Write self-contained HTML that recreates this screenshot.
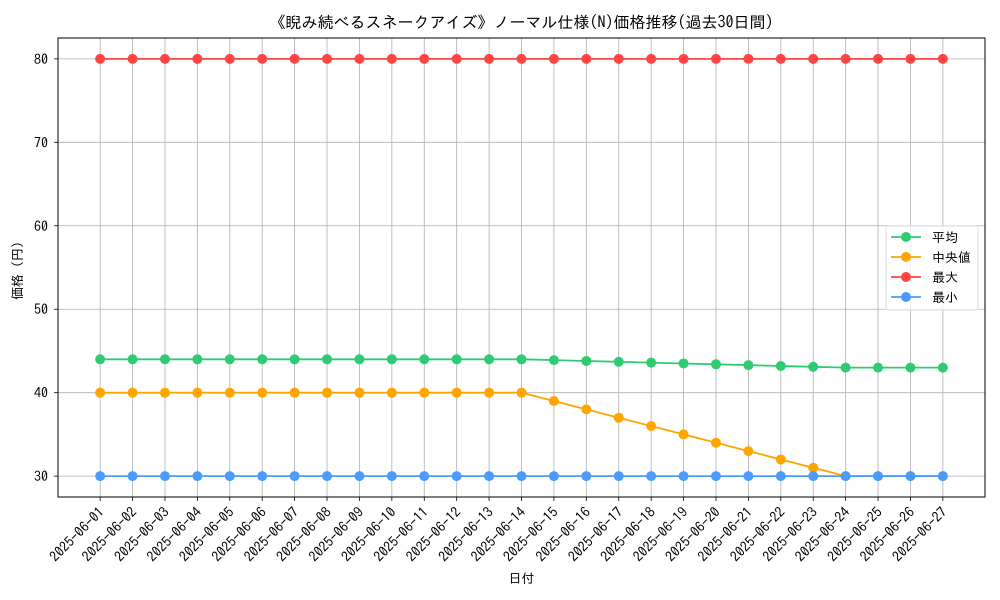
<!DOCTYPE html>
<html><head><meta charset="utf-8"><style>body{margin:0;background:#fff}svg{display:block;font-family:"IPAGothic","Liberation Sans","Noto Sans CJK JP",sans-serif}</style></head>
<body>
<svg id="c" width="1000" height="600"></svg>
<script>
const dates=["2025-06-01","2025-06-02","2025-06-03","2025-06-04","2025-06-05","2025-06-06","2025-06-07","2025-06-08","2025-06-09","2025-06-10","2025-06-11","2025-06-12","2025-06-13","2025-06-14","2025-06-15","2025-06-16","2025-06-17","2025-06-18","2025-06-19","2025-06-20","2025-06-21","2025-06-22","2025-06-23","2025-06-24","2025-06-25","2025-06-26","2025-06-27"];
const avgVals=[44,44,44,44,44,44,44,44,44,44,44,44,44,44,43.9,43.8,43.7,43.6,43.5,43.4,43.3,43.2,43.1,43,43,43,43];
const medVals=[40,40,40,40,40,40,40,40,40,40,40,40,40,40,39,38,37,36,35,34,33,32,31,30,30,30,30];
const maxVals=[80,80,80,80,80,80,80,80,80,80,80,80,80,80,80,80,80,80,80,80,80,80,80,80,80,80,80];
const minVals=[30,30,30,30,30,30,30,30,30,30,30,30,30,30,30,30,30,30,30,30,30,30,30,30,30,30,30];
const yTicks=[30,40,50,60,70,80];
const seriesNames=["平均","中央値","最大","最小"];
const NS="http://www.w3.org/2000/svg",svg=document.getElementById('c');
const L=58,R=985,T=38,B=497;
const n=dates.length,xm=(n-1)*0.05;
const x=i=>L+(i+xm)/(n-1+2*xm)*(R-L);
const all=[].concat(avgVals,medVals,maxVals,minVals);
const ymin=Math.min(...all),ymax=Math.max(...all),yp=(ymax-ymin)*0.05;
const y=v=>B-(v-(ymin-yp))/((ymax+yp)-(ymin-yp))*(B-T);
function el(t,a,txt){const e=document.createElementNS(NS,t);for(const k in a)e.setAttribute(k,a[k]);if(txt!==undefined)e.textContent=txt;svg.appendChild(e);return e;}
dates.forEach((d,i)=>{
 const g=el('line',{x1:x(i),x2:x(i),y1:T,y2:B,stroke:'#b0b0b0','stroke-width':0.8});
 
 const tk=el('line',{x1:x(i),x2:x(i),y1:B,y2:B+4,stroke:'#000','stroke-width':0.8});
 
 const ax=x(i)+5,ay=B+16;
 const t=el('text',{x:ax,y:ay,'font-size':14,'text-anchor':'end',transform:`rotate(-45 ${ax} ${ay})`},d);
 
});
yTicks.forEach(v=>{
 const g=el('line',{x1:L,x2:R,y1:y(v),y2:y(v),stroke:'#b0b0b0','stroke-width':0.8});
 
 const tk=el('line',{x1:L-4,x2:L,y1:y(v),y2:y(v),stroke:'#000','stroke-width':0.8});
 
 const t=el('text',{x:L-10,y:y(v)+5,'font-size':14,'text-anchor':'end'},v);
 
});
const series=[[avgVals,'#2ecc71'],[medVals,'#ffa500'],[maxVals,'#ff4444'],[minVals,'#4a9bff']];
series.forEach(([vals,c],si)=>{
 const p=el('polyline',{points:vals.map((v,i)=>x(i)+','+y(v)).join(' '),fill:'none',stroke:c,'stroke-width':1.8});
 
 vals.forEach((v,i)=>{const m=el('circle',{cx:x(i),cy:y(v),r:5,fill:c});
  });
});
const fr=el('rect',{x:L,y:T,width:R-L,height:B-T,fill:'none',stroke:'#000','stroke-width':1});

const tt=el('text',{x:(L+R)/2,y:28,'font-size':16,'text-anchor':'middle'},'《睨み続べるスネークアイズ》ノーマル仕様(N)価格推移(過去30日間)');

const xt=el('text',{x:(L+R)/2,y:583,'font-size':13,'text-anchor':'middle'},'日付');

const yt=el('text',{x:22,y:(T+B)/2,'font-size':13,'text-anchor':'middle',transform:`rotate(-90 22 ${(T+B)/2})`},'価格（円）');

const lg=el('rect',{x:886,y:226,width:92,height:84,fill:'#fff','fill-opacity':0.8,stroke:'#ddd',rx:2});

series.forEach(([v,c],i)=>{const yy=237+i*20;
 const l=el('line',{x1:891,x2:921,y1:yy,y2:yy,stroke:c,'stroke-width':1.8});
 
 const m=el('circle',{cx:906,cy:yy,r:5,fill:c});
 
 const t=el('text',{x:932,y:yy+5,'font-size':13},seriesNames[i]);
 
});
</script>
</body></html>
